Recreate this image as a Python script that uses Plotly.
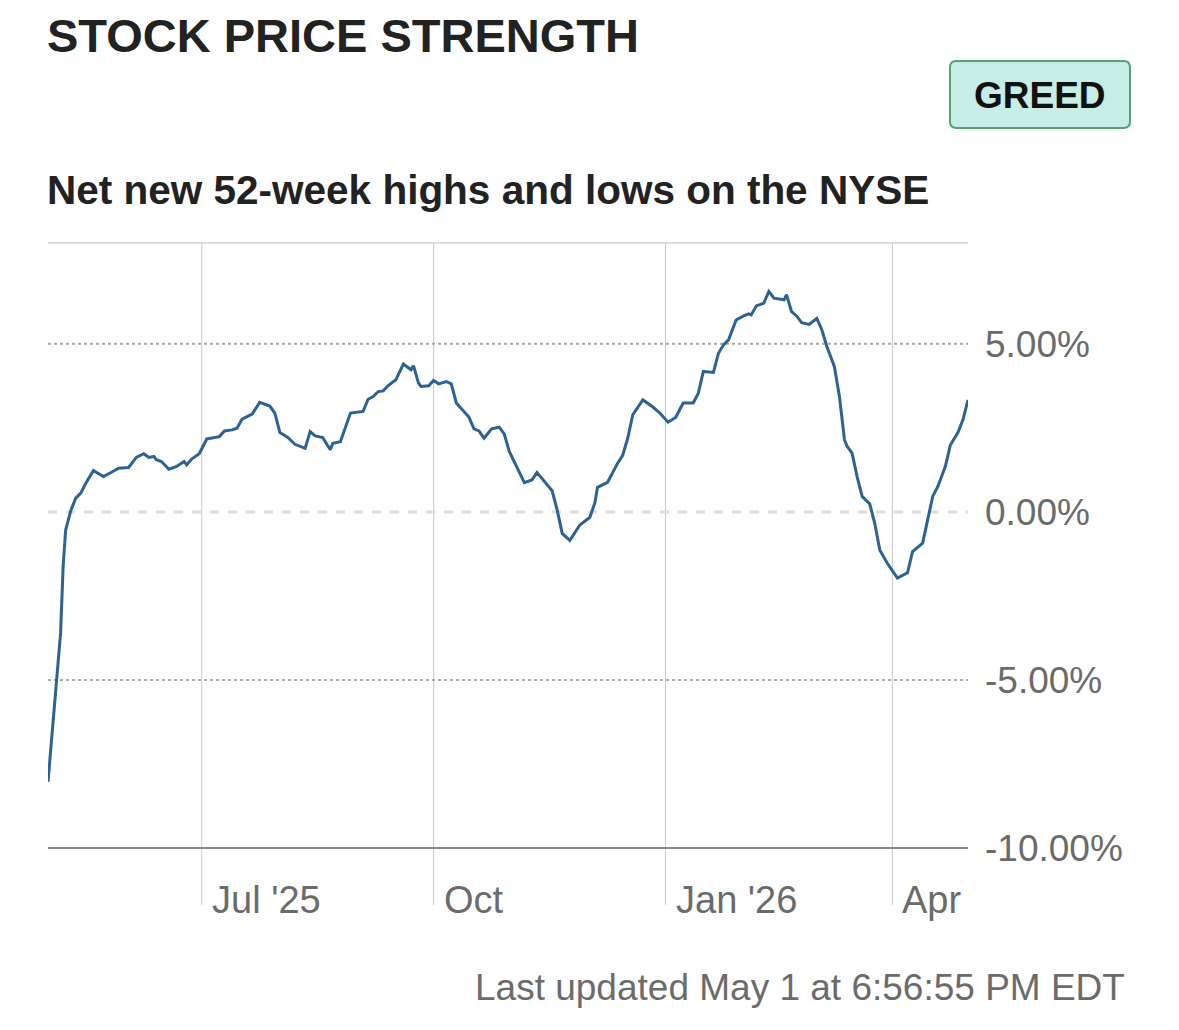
import plotly.graph_objects as go

dates = [
    "2025-05-01", "2025-05-02", "2025-05-04", "2025-05-06", "2025-05-07", "2025-05-08",
    "2025-05-10", "2025-05-12", "2025-05-14", "2025-05-16", "2025-05-19", "2025-05-23",
    "2025-05-26", "2025-05-29", "2025-06-02", "2025-06-05", "2025-06-08", "2025-06-10",
    "2025-06-12", "2025-06-13", "2025-06-15", "2025-06-18", "2025-06-21", "2025-06-24",
    "2025-06-25", "2025-06-27", "2025-06-30", "2025-07-03", "2025-07-08", "2025-07-10",
    "2025-07-13", "2025-07-15", "2025-07-17", "2025-07-21", "2025-07-24", "2025-07-28",
    "2025-07-30", "2025-08-01", "2025-08-04", "2025-08-07", "2025-08-11", "2025-08-13",
    "2025-08-15", "2025-08-18", "2025-08-21", "2025-08-22", "2025-08-25", "2025-08-26",
    "2025-08-29", "2025-09-03", "2025-09-05", "2025-09-07", "2025-09-09", "2025-09-11",
    "2025-09-13", "2025-09-16", "2025-09-19", "2025-09-22", "2025-09-23", "2025-09-25",
    "2025-09-26", "2025-09-29", "2025-10-01", "2025-10-03", "2025-10-06", "2025-10-08",
    "2025-10-10", "2025-10-13", "2025-10-15", "2025-10-17", "2025-10-19", "2025-10-21",
    "2025-10-24", "2025-10-27", "2025-10-29", "2025-10-31", "2025-11-02", "2025-11-06",
    "2025-11-09", "2025-11-11", "2025-11-14", "2025-11-17", "2025-11-19", "2025-11-21",
    "2025-11-24", "2025-11-28", "2025-12-02", "2025-12-04", "2025-12-05", "2025-12-09",
    "2025-12-13", "2025-12-15", "2025-12-17", "2025-12-19", "2025-12-23", "2025-12-27",
    "2025-12-30", "2026-01-02", "2026-01-05", "2026-01-08", "2026-01-12", "2026-01-14",
    "2026-01-16", "2026-01-20", "2026-01-22", "2026-01-24", "2026-01-26", "2026-01-29",
    "2026-02-01", "2026-02-03", "2026-02-04", "2026-02-06", "2026-02-09", "2026-02-11",
    "2026-02-13", "2026-02-17", "2026-02-18", "2026-02-20", "2026-02-22", "2026-02-24",
    "2026-02-27", "2026-03-02", "2026-03-04", "2026-03-06", "2026-03-09", "2026-03-11",
    "2026-03-13", "2026-03-14", "2026-03-16", "2026-03-18", "2026-03-20", "2026-03-23",
    "2026-03-25", "2026-03-27", "2026-03-30", "2026-04-03", "2026-04-07", "2026-04-09",
    "2026-04-13", "2026-04-15", "2026-04-17", "2026-04-19", "2026-04-22", "2026-04-24",
    "2026-04-27", "2026-04-29", "2026-05-01",
]

values = [
    -8.03, -7.10, -5.20, -3.60, -1.63, -0.54,
    0.03, 0.41, 0.56, 0.85, 1.23, 1.05,
    1.17, 1.30, 1.32, 1.62, 1.73, 1.62,
    1.65, 1.55, 1.50, 1.27, 1.35, 1.50,
    1.40, 1.57, 1.73, 2.17, 2.24, 2.41,
    2.44, 2.49, 2.76, 2.91, 3.26, 3.15,
    2.94, 2.36, 2.22, 2.01, 1.89, 2.39,
    2.26, 2.21, 1.85, 2.04, 2.09, 2.29,
    2.94, 2.99, 3.35, 3.43, 3.58, 3.60,
    3.76, 3.93, 4.40, 4.23, 4.35, 3.83,
    3.73, 3.75, 3.91, 3.81, 3.88, 3.81,
    3.24, 2.99, 2.82, 2.47, 2.41, 2.19,
    2.47, 2.52, 2.32, 1.80, 1.50, 0.87,
    0.95, 1.17, 0.90, 0.63, 0.06, -0.64,
    -0.85, -0.39, -0.16, 0.28, 0.73, 0.88,
    1.45, 1.68, 2.19, 2.89, 3.33, 3.12,
    2.92, 2.67, 2.81, 3.24, 3.24, 3.53,
    4.18, 4.15, 4.72, 4.97, 5.12, 5.71,
    5.83, 5.89, 5.86, 6.13, 6.21, 6.56,
    6.36, 6.31, 6.46, 5.96, 5.83, 5.63,
    5.58, 5.76, 5.42, 4.92, 4.32, 3.43,
    2.14, 1.96, 1.75, 1.05, 0.46, 0.24,
    -0.34, -1.13, -1.53, -1.97, -1.81, -1.18,
    -0.93, -0.24, 0.46, 0.75, 1.35, 1.99,
    2.36, 2.74, 3.33,
]

x_tick_dates = ["2025-07-01", "2025-10-01", "2026-01-01", "2026-04-01"]
x_tick_labels = ["Jul '25", "Oct", "Jan '26", "Apr"]
y_tick_vals = [5, 0, -5, -10]
y_tick_labels = ["5.00%", "0.00%", "-5.00%", "-10.00%"]

title_text = "STOCK PRICE STRENGTH"
subtitle_text = "Net new 52-week highs and lows on the NYSE"
badge_text = "GREED"
footer_text = "Last updated May 1 at 6:56:55 PM EDT"

FONT = "Liberation Sans, Arial, sans-serif"
GRAY = "#6b6b6b"

fig = go.Figure()
fig.add_trace(go.Scatter(
    x=dates, y=values, mode="lines",
    line=dict(color="#2c6294", width=3),
    hoverinfo="skip", showlegend=False,
))

shapes = []
for d in x_tick_dates:
    shapes.append(dict(type="line", xref="x", yref="paper", x0=d, x1=d,
                       y0=-0.094, y1=1, line=dict(color="#c8c8c8", width=1), layer="below"))
shapes.append(dict(type="line", xref="paper", yref="y", x0=0, x1=1, y0=5, y1=5,
                   line=dict(color="#ababab", width=2, dash="dot"), layer="below"))
shapes.append(dict(type="line", xref="paper", yref="y", x0=0, x1=1, y0=-5, y1=-5,
                   line=dict(color="#ababab", width=2, dash="dot"), layer="below"))
shapes.append(dict(type="line", xref="paper", yref="y", x0=0, x1=1, y0=0, y1=0,
                   line=dict(color="#dedede", width=3, dash="dash"), layer="below"))
shapes.append(dict(type="line", xref="paper", yref="paper", x0=0, x1=1, y0=0, y1=0,
                   line=dict(color="#8a8a8a", width=2)))
shapes.append(dict(type="line", xref="paper", yref="paper", x0=0, x1=1, y0=1, y1=1,
                   line=dict(color="#bdbdbd", width=1.2)))

# rounded badge box (paper coords)
bx0, bx1, by0, by1 = 0.9804, 1.1761, 1.1901, 1.3008
rx, ry = 0.0070, 0.0106
badge_path = (
    f"M {bx0+rx},{by0} L {bx1-rx},{by0} Q {bx1},{by0} {bx1},{by0+ry} "
    f"L {bx1},{by1-ry} Q {bx1},{by1} {bx1-rx},{by1} "
    f"L {bx0+rx},{by1} Q {bx0},{by1} {bx0},{by1-ry} "
    f"L {bx0},{by0+ry} Q {bx0},{by0} {bx0+rx},{by0} Z"
)
shapes.append(dict(type="path", xref="paper", yref="paper", path=badge_path,
                   fillcolor="#c6ede6", line=dict(color="#5b9f74", width=2)))

annotations = []
for d, lab in zip(x_tick_dates, x_tick_labels):
    annotations.append(dict(x=d, y=-0.086, xref="x", yref="paper", text=lab,
                            showarrow=False, xanchor="left", yanchor="middle", xshift=8,
                            font=dict(family=FONT, size=38, color=GRAY)))
annotations.append(dict(x=0, y=1.3438, xref="paper", yref="paper", text="<b>" + title_text + "</b>",
                        showarrow=False, xanchor="left", yanchor="middle", xshift=-3,
                        font=dict(family=FONT, size=47, color="#222222")))
annotations.append(dict(x=0, y=1.0876, xref="paper", yref="paper", text="<b>" + subtitle_text + "</b>",
                        showarrow=False, xanchor="left", yanchor="middle", xshift=-3,
                        font=dict(family=FONT, size=40.5, color="#222222")))
annotations.append(dict(x=1.0783, y=1.2446, xref="paper", yref="paper", text="<b>" + badge_text + "</b>",
                        showarrow=False, xanchor="center", yanchor="middle",
                        font=dict(family=FONT, size=37, color="#111111")))
annotations.append(dict(x=1.1728, y=-0.2298, xref="paper", yref="paper", text=footer_text,
                        showarrow=False, xanchor="right", yanchor="middle",
                        font=dict(family=FONT, size=37, color=GRAY)))

fig.update_layout(
    width=1179, height=1030,
    margin=dict(l=48, r=211, t=243, b=182),
    paper_bgcolor="white", plot_bgcolor="white",
    shapes=shapes, annotations=annotations,
    xaxis=dict(range=["2025-05-01", "2026-05-01"], showgrid=False, zeroline=False,
               showticklabels=False, ticks="", showline=False, fixedrange=True),
    yaxis=dict(range=[-10, 8], side="right", showgrid=False, zeroline=False,
               tickvals=y_tick_vals, ticktext=y_tick_labels, ticks="",
               ticklabelstandoff=16, showline=False, fixedrange=True,
               tickfont=dict(family=FONT, size=37, color=GRAY)),
)

fig.write_html("out.html")
